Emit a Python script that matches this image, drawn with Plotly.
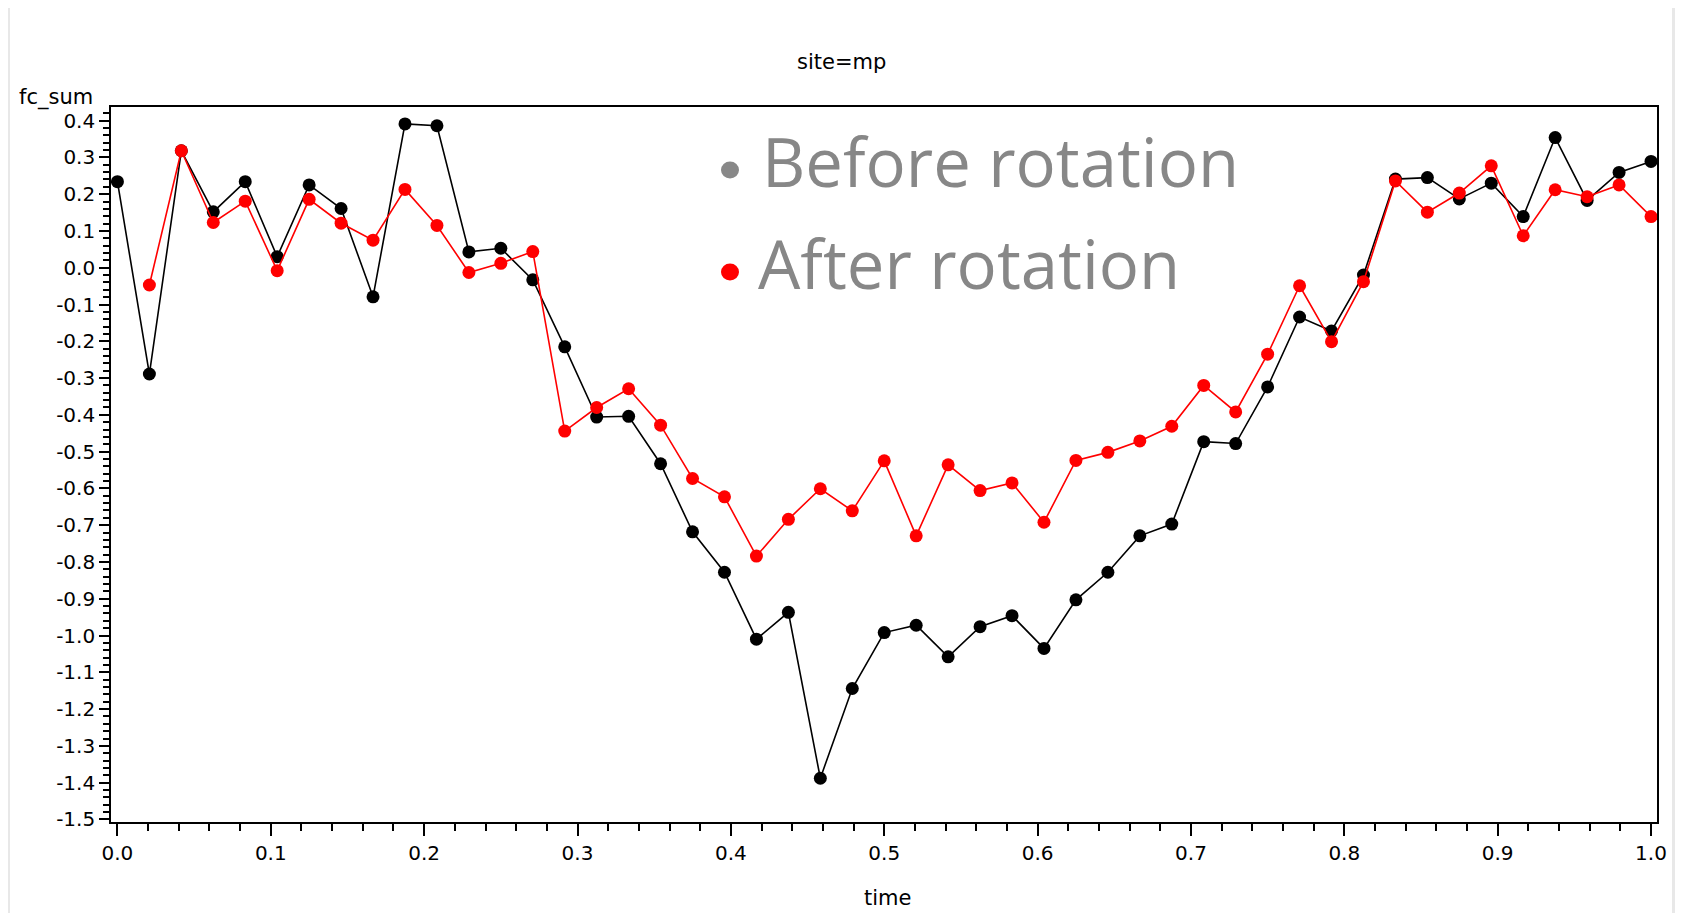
import plotly.graph_objects as go

# ---------------- data ----------------
time = [i / 48 for i in range(49)]

before_rotation = [
    0.234, -0.289, 0.318, 0.152, 0.234, 0.030, 0.225, 0.161, -0.079, 0.391,
    0.386, 0.043, 0.053, -0.033, -0.215, -0.406, -0.404, -0.533, -0.718, -0.828,
    -1.010, -0.937, -1.388, -1.144, -0.992, -0.972, -1.058, -0.976, -0.946, -1.035,
    -0.903, -0.828, -0.729, -0.697, -0.473, -0.478, -0.324, -0.134, -0.172, -0.020,
    0.241, 0.245, 0.187, 0.230, 0.139, 0.354, 0.183, 0.259, 0.289,
]

after_rotation = [
    None, -0.047, 0.318, 0.123, 0.181, -0.008, 0.186, 0.121, 0.075, 0.213,
    0.115, -0.013, 0.012, 0.044, -0.444, -0.380, -0.329, -0.428, -0.573, -0.623,
    -0.784, -0.684, -0.601, -0.661, -0.525, -0.729, -0.536, -0.606, -0.585, -0.692,
    -0.524, -0.502, -0.471, -0.431, -0.320, -0.392, -0.235, -0.049, -0.201, -0.038,
    0.236, 0.151, 0.203, 0.277, 0.087, 0.212, 0.193, 0.225, 0.139,
]

x_tickvals = [0.0, 0.1, 0.2, 0.3, 0.4, 0.5, 0.6, 0.7, 0.8, 0.9, 1.0]
x_ticktext = ["0.0", "0.1", "0.2", "0.3", "0.4", "0.5", "0.6", "0.7", "0.8", "0.9", "1.0"]
y_tickvals = [0.4, 0.3, 0.2, 0.1, 0.0, -0.1, -0.2, -0.3, -0.4, -0.5, -0.6, -0.7,
              -0.8, -0.9, -1.0, -1.1, -1.2, -1.3, -1.4, -1.5]
y_ticktext = ["0.4", "0.3", "0.2", "0.1", "0.0", "-0.1", "-0.2", "-0.3", "-0.4", "-0.5",
              "-0.6", "-0.7", "-0.8", "-0.9", "-1.0", "-1.1", "-1.2", "-1.3", "-1.4", "-1.5"]

legend_labels = ["Before rotation", "After rotation"]
legend_colors = ["#888888", "#ff0000"]

# ---------------- layout geometry (figure pixels; page = figure + 8px body margin) ----------------
W, H = 1675, 905
L, R, T, B = 103, 1649, 99, 814


def px_x(px):
    return (px - L) / (R - L)


def px_y(py):
    return (B - py) / (B - T)


fig = go.Figure()

fig.add_trace(go.Scatter(
    x=time, y=before_rotation, mode="lines+markers",
    line=dict(color="black", width=1.6),
    marker=dict(color="black", size=13, symbol="circle"),
    showlegend=False,
))
fig.add_trace(go.Scatter(
    x=time, y=after_rotation, mode="lines+markers",
    line=dict(color="#ff0000", width=1.6),
    marker=dict(color="#ff0000", size=13, symbol="circle"),
    showlegend=False, connectgaps=False,
))

axis_font = dict(family="DejaVu Sans", size=20, color="black")

fig.update_xaxes(
    range=[-0.0042, 1.0039],
    tickvals=x_tickvals, ticktext=x_ticktext,
    ticks="outside", ticklen=12, tickwidth=1.5, tickcolor="black",
    minor=dict(dtick=0.02, ticks="outside", ticklen=7, tickwidth=1.5, tickcolor="black"),
    showline=True, linecolor="black", linewidth=1.6, mirror=True,
    showgrid=False, zeroline=False,
    tickfont=axis_font,
)
fig.update_yaxes(
    range=[-1.507, 0.437],
    tickvals=y_tickvals, ticktext=y_ticktext,
    ticks="outside", ticklen=10, tickwidth=1.5, tickcolor="black",
    minor=dict(dtick=0.02, ticks="outside", ticklen=6, tickwidth=1.5, tickcolor="black"),
    showline=True, linecolor="black", linewidth=1.6, mirror=True,
    showgrid=False, zeroline=False,
    tickfont=axis_font,
)

shapes = [
    # white slide area over the light-grey background
    dict(type="rect", xref="paper", yref="paper", layer="below",
         x0=px_x(2), x1=px_x(1664), y0=px_y(H), y1=px_y(0),
         fillcolor="white", line=dict(width=0)),
]
bullet_y = [162, 264]
for c, by in zip(legend_colors, bullet_y):
    shapes.append(dict(type="circle", xref="paper", yref="paper",
                       x0=px_x(713), x1=px_x(731), y0=px_y(by + 8.5), y1=px_y(by - 8.5),
                       fillcolor=c, line=dict(width=0)))

annotations = [
    dict(text="site=mp", xref="paper", yref="paper", x=px_x(833), y=px_y(54),
         showarrow=False, font=dict(family="DejaVu Sans", size=21, color="black"),
         xanchor="center", yanchor="middle"),
    dict(text="fc_sum", xref="paper", yref="paper", x=px_x(9), y=px_y(89),
         showarrow=False, font=dict(family="DejaVu Sans", size=21, color="black"),
         xanchor="left", yanchor="middle"),
    dict(text="time", xref="paper", yref="paper", x=px_x(879), y=px_y(890),
         showarrow=False, font=dict(family="DejaVu Sans", size=21, color="black"),
         xanchor="center", yanchor="middle"),
]
text_y = [153, 255]
text_x = [752, 748]
for lab, tx, ty in zip(legend_labels, text_x, text_y):
    annotations.append(dict(text=lab, xref="paper", yref="paper", x=px_x(tx), y=px_y(ty),
                            showarrow=False, xanchor="left", yanchor="middle",
                            font=dict(family="Open Sans", size=67, color="#878787", weight=400)))

fig.update_layout(
    width=W, height=H,
    margin=dict(l=L, r=W - R, t=T, b=H - B),
    paper_bgcolor="#e8e8e8", plot_bgcolor="white",
    shapes=shapes, annotations=annotations,
)

fig.write_html("out.html")
